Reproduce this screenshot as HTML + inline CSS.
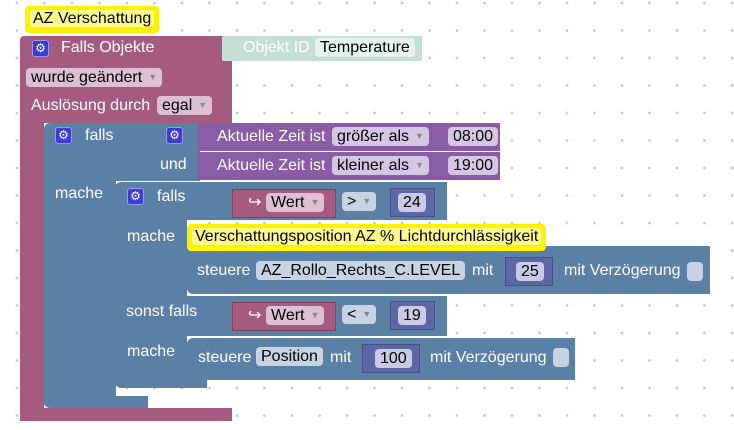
<!DOCTYPE html>
<html><head><meta charset="utf-8"><style>
*{margin:0;padding:0;box-sizing:border-box}
body{width:734px;height:430px;overflow:hidden;background:#fff;font-family:"Liberation Sans",sans-serif;font-size:16px;position:relative;
background-image:radial-gradient(circle,#c8c8c8 1.2px,transparent 1.6px);background-size:27.5px 27.5px;background-position:3.25px -10.75px}
div{position:absolute}
.m{background:#a55b80}.b{background:#5b80a5}.p{background:#8a5ca5}.n{background:#5b67a5}
.t{color:#fff;white-space:nowrap;line-height:18px}
.f{border-radius:4px;line-height:19px;height:19px;padding:0 5px;white-space:nowrap;color:#000}
.fm{background:#dcc0cf}.fp{background:#d6c6e6}.fb{background:#c5d3e2}.fn{background:#c8cae6}
.g{width:17px;height:17px;background:#3d3dd6;border-radius:3px;border:1px solid #9a9ae8;color:#fff;font-size:12px;line-height:15px;text-align:center}
.y{background:#fff200;border-radius:4px;padding:0 5px;line-height:20px;color:#000;white-space:nowrap}
.yi{background:#fefb8e;border-radius:3px;padding:0 3px}
.ar{font-size:9px;color:#888;margin-left:6px;vertical-align:2px}
</style></head><body>
<div class="m" style="left:20px;top:36px;width:212px;height:87px;border-radius:4px 0 0 0"></div>
<div class="m" style="left:20px;top:120px;width:24px;height:300px;border-radius:0 0 0 6px"></div>
<div class="m" style="left:20px;top:408px;width:212px;height:13px"></div>
<div style="left:222px;top:36px;width:200px;height:25px;background:#c6dfd4;border-radius:2px"></div>
<div class="t" style="left:243px;top:39px;color:#fff">Objekt ID</div>
<div class="f" style="left:315px;top:38px;background:#e8f2ed">Temperature</div>
<div class="y" style="left:25px;top:6px;height:27px;padding-top:3px"><span class="yi">AZ Verschattung</span></div>
<div class="g" style="left:32px;top:40px">⚙</div>
<div class="t" style="left:61px;top:39px">Falls Objekte</div>
<div class="f fm" style="left:26px;top:68px">wurde geändert<span class="ar">▼</span></div>
<div class="t" style="left:31px;top:97px">Auslösung durch</div>
<div class="f fm" style="left:157px;top:96px">egal<span class="ar">▼</span></div>
<div class="b" style="left:44px;top:123px;width:156px;height:58px;border-radius:6px 0 0 0"></div>
<div class="b" style="left:44px;top:180px;width:72px;height:225px"></div>
<div class="b" style="left:44px;top:396px;width:104px;height:12px;border-radius:0 0 0 6px"></div>
<div class="g" style="left:55px;top:127px">⚙</div>
<div class="t" style="left:85px;top:127px">falls</div>
<div class="t" style="left:160px;top:156px">und</div>
<div class="t" style="left:55px;top:185px">mache</div>
<div class="g" style="left:166px;top:127px">⚙</div>
<div class="p" style="left:198px;top:123px;width:302px;height:28px"></div>
<div class="p" style="left:198px;top:152px;width:302px;height:28px"></div>
<div class="t" style="left:217px;top:128px">Aktuelle Zeit ist</div>
<div class="f fp" style="left:332px;top:127px">größer als<span class="ar">▼</span></div>
<div class="f fp" style="left:448px;top:127px">08:00</div>
<div class="t" style="left:217px;top:157px">Aktuelle Zeit ist</div>
<div class="f fp" style="left:332px;top:156px">kleiner als<span class="ar">▼</span></div>
<div class="f fp" style="left:448px;top:156px">19:00</div>
<div class="b" style="left:115px;top:182px;width:332px;height:38px;border-radius:6px 0 0 0"></div>
<div class="b" style="left:115px;top:218px;width:72px;height:165px"></div>
<div class="b" style="left:115px;top:296px;width:332px;height:40px"></div>
<div class="b" style="left:115px;top:376px;width:92px;height:12px;border-radius:0 0 0 6px"></div>
<div class="g" style="left:127px;top:188px">⚙</div>
<div class="t" style="left:157px;top:188px">falls</div>
<div class="t" style="left:127px;top:228px">mache</div>
<div class="t" style="left:126px;top:303px">sonst falls</div>
<div class="t" style="left:127px;top:343px">mache</div>
<div class="m" style="left:232px;top:189px;width:104px;height:29px;border:1px solid #7d4060"></div>
<div class="t" style="left:248px;top:194px">↪</div>
<div class="f fm" style="left:266px;top:193px">Wert<span class="ar">▼</span></div>
<div class="f fb" style="left:342px;top:192px">&gt;<span class="ar">▼</span></div>
<div class="n" style="left:390px;top:188px;width:45px;height:29px;border:1px solid #454f88"></div>
<div class="f fn" style="left:398px;top:193px">24</div>
<div class="m" style="left:232px;top:302px;width:104px;height:29px;border:1px solid #7d4060"></div>
<div class="t" style="left:248px;top:307px">↪</div>
<div class="f fm" style="left:266px;top:306px">Wert<span class="ar">▼</span></div>
<div class="f fb" style="left:342px;top:305px">&lt;<span class="ar">▼</span></div>
<div class="n" style="left:390px;top:301px;width:45px;height:29px;border:1px solid #454f88"></div>
<div class="f fn" style="left:398px;top:306px">19</div>
<div class="b" style="left:187px;top:246px;width:523px;height:48px;border-radius:0 0 0 6px"></div>
<div class="y" style="left:187px;top:224px;height:27px;padding-top:3px"><span class="yi">Verschattungsposition AZ % Lichtdurchlässigkeit</span></div>
<div class="t" style="left:197px;top:262px">steuere</div>
<div class="f fb" style="left:256px;top:261px">AZ_Rollo_Rechts_C.LEVEL</div>
<div class="t" style="left:472px;top:262px">mit</div>
<div class="n" style="left:505px;top:257px;width:48px;height:29px;border:1px solid #454f88"></div>
<div class="f fn" style="left:516px;top:262px">25</div>
<div class="t" style="left:564px;top:262px">mit Verzögerung</div>
<div style="left:687px;top:262px;width:16px;height:19px;background:#c5d3e2;border-radius:4px"></div>
<div class="b" style="left:187px;top:338px;width:388px;height:42px;border-radius:6px 0 0 6px"></div>
<div class="t" style="left:198px;top:349px">steuere</div>
<div class="f fb" style="left:256px;top:347px">Position</div>
<div class="t" style="left:330px;top:349px">mit</div>
<div class="n" style="left:362px;top:344px;width:58px;height:29px;border:1px solid #454f88"></div>
<div class="f fn" style="left:375px;top:349px">100</div>
<div class="t" style="left:430px;top:349px">mit Verzögerung</div>
<div style="left:553px;top:348px;width:16px;height:19px;background:#c5d3e2;border-radius:4px"></div>
</body></html>
